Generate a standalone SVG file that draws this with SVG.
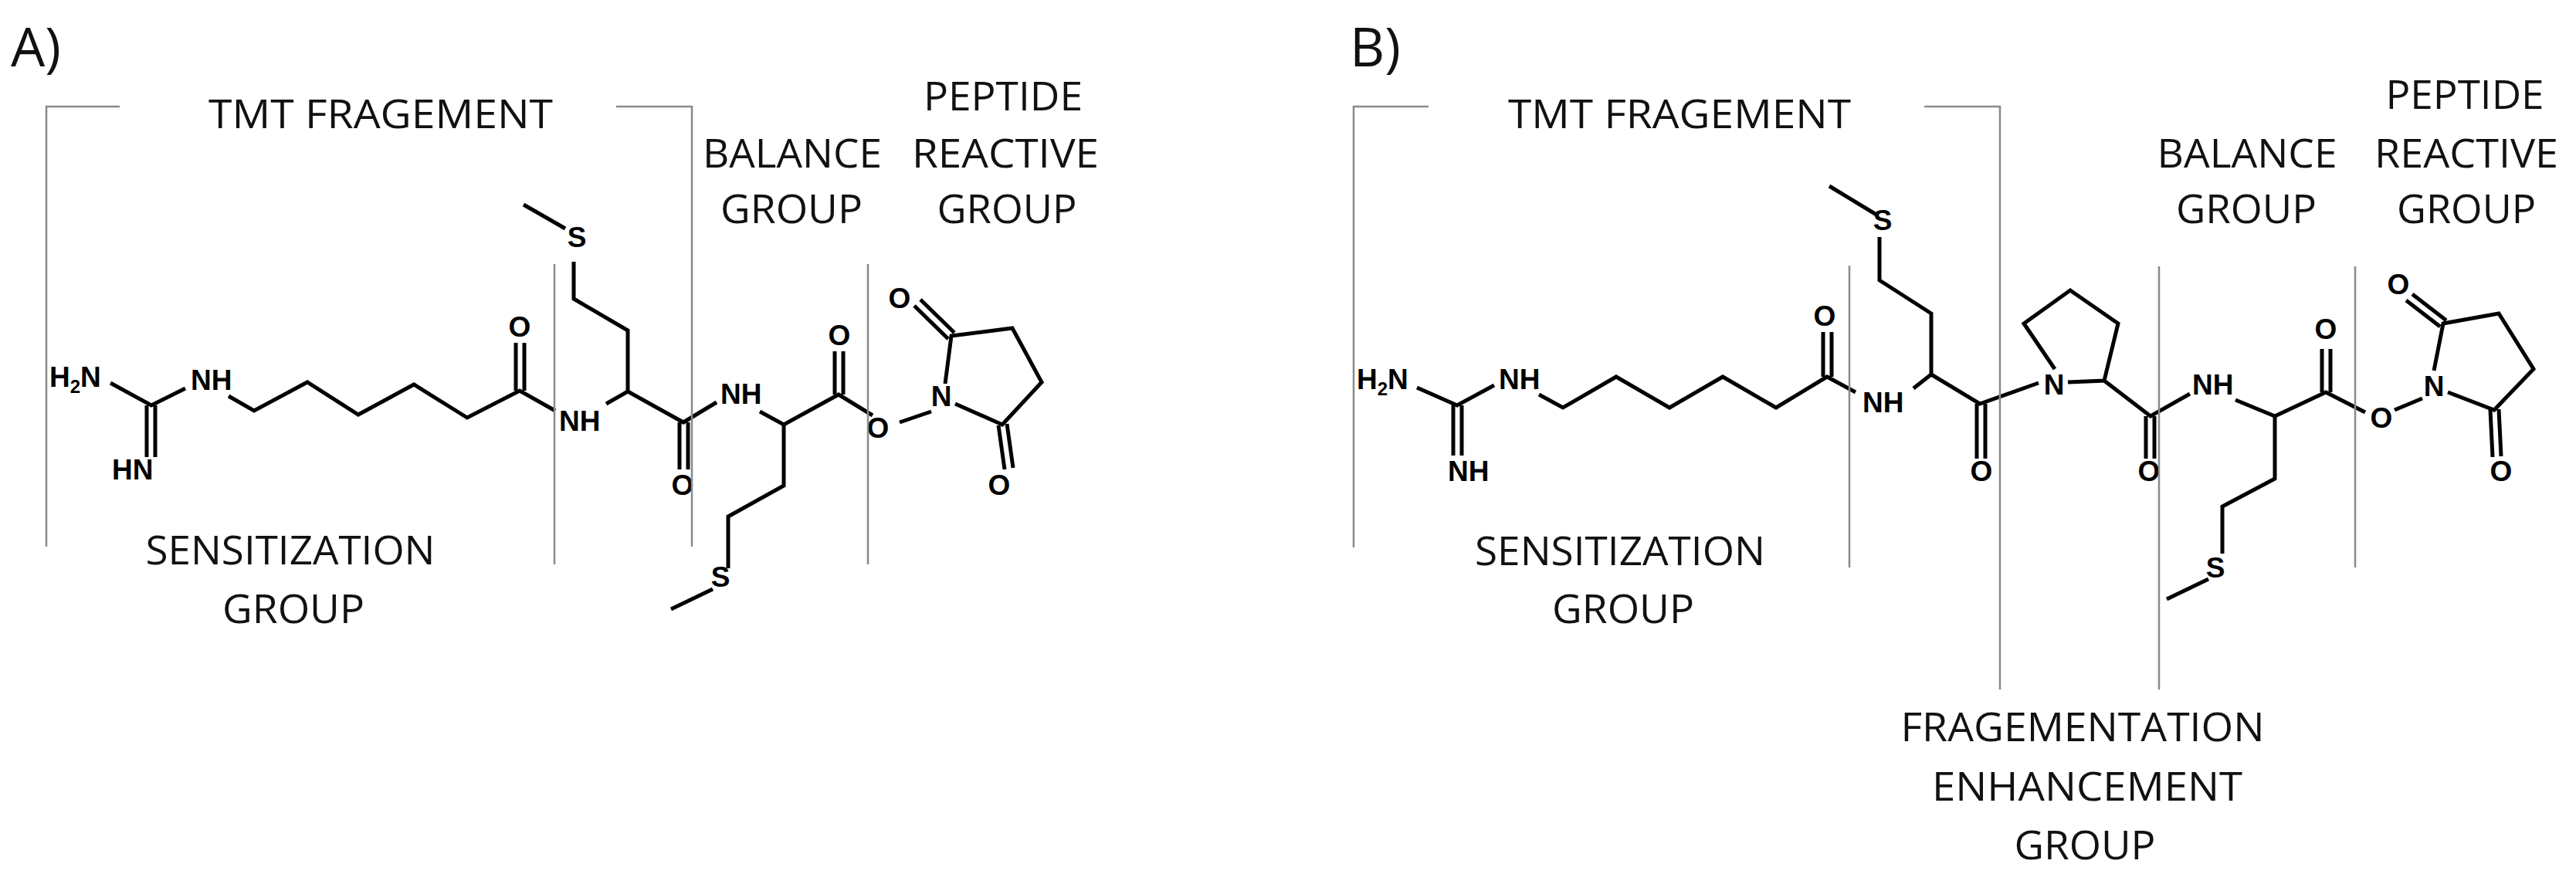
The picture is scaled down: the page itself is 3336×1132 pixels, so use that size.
<svg xmlns="http://www.w3.org/2000/svg" width="3336" height="1132" viewBox="0 0 3336 1132">
<style>
.lbl{font-family:"Open Sans","Liberation Sans",sans-serif;font-size:52px;fill:#111;text-anchor:middle}
.pan{font-family:"Open Sans","Liberation Sans",sans-serif;font-size:70px;fill:#111}
.at{font-family:"Liberation Sans",Arial,sans-serif;font-weight:bold;font-size:37px;fill:#000}
.m{text-anchor:middle}
.sub{font-size:24px}
.bd{fill:none;stroke:#000;stroke-width:5;stroke-linejoin:miter;stroke-linecap:butt}
.gl{fill:none;stroke:#8a8a8a;stroke-width:2.5}
</style>
<rect width="3336" height="1132" fill="#fff"/>
<g id="panelA">
<text class="pan" x="14" y="86">A)</text>
<g id="A-labels">
<text class="lbl" x="493" y="166" textLength="446" lengthAdjust="spacingAndGlyphs">TMT FRAGEMENT</text>
<text class="lbl" x="376" y="731" textLength="375" lengthAdjust="spacingAndGlyphs">SENSITIZATION</text>
<text class="lbl" x="380" y="807" textLength="184" lengthAdjust="spacingAndGlyphs">GROUP</text>
<text class="lbl" x="1026" y="217" textLength="232" lengthAdjust="spacingAndGlyphs">BALANCE</text>
<text class="lbl" x="1025" y="289" textLength="184" lengthAdjust="spacingAndGlyphs">GROUP</text>
<text class="lbl" x="1299" y="143" textLength="206" lengthAdjust="spacingAndGlyphs">PEPTIDE</text>
<text class="lbl" x="1302" y="217" textLength="242" lengthAdjust="spacingAndGlyphs">REACTIVE</text>
<text class="lbl" x="1304" y="289" textLength="181" lengthAdjust="spacingAndGlyphs">GROUP</text>
</g>
<g id="A-atoms">
<text class="at" x="64" y="501">H<tspan class="sub" dy="8">2</tspan><tspan dy="-8">N</tspan></text>
<text class="at" x="247" y="505">NH</text>
<text class="at" x="145" y="621">HN</text>
<text class="at m" x="673" y="436">O</text>
<text class="at" x="724" y="558">NH</text>
<text class="at m" x="747" y="320">S</text>
<text class="at m" x="884" y="641">O</text>
<text class="at" x="933" y="523">NH</text>
<text class="at m" x="1087" y="447">O</text>
<text class="at m" x="1137" y="567">O</text>
<text class="at m" x="1219" y="526">N</text>
<text class="at m" x="1165" y="399">O</text>
<text class="at m" x="1294" y="641">O</text>
<text class="at m" x="933" y="760">S</text>
</g>
</g>
<g id="panelB">
<text class="pan" x="1748" y="86">B)</text>
<g id="B-labels">
<text class="lbl" x="2175" y="166" textLength="444" lengthAdjust="spacingAndGlyphs">TMT FRAGEMENT</text>
<text class="lbl" x="2098" y="732" textLength="376" lengthAdjust="spacingAndGlyphs">SENSITIZATION</text>
<text class="lbl" x="2102" y="807" textLength="184" lengthAdjust="spacingAndGlyphs">GROUP</text>
<text class="lbl" x="2910" y="217" textLength="233" lengthAdjust="spacingAndGlyphs">BALANCE</text>
<text class="lbl" x="2909" y="289" textLength="182" lengthAdjust="spacingAndGlyphs">GROUP</text>
<text class="lbl" x="3192" y="141" textLength="205" lengthAdjust="spacingAndGlyphs">PEPTIDE</text>
<text class="lbl" x="3194" y="217" textLength="238" lengthAdjust="spacingAndGlyphs">REACTIVE</text>
<text class="lbl" x="3194" y="289" textLength="180" lengthAdjust="spacingAndGlyphs">GROUP</text>
<text class="lbl" x="2697" y="960" textLength="471" lengthAdjust="spacingAndGlyphs">FRAGEMENTATION</text>
<text class="lbl" x="2703" y="1037" textLength="402" lengthAdjust="spacingAndGlyphs">ENHANCEMENT</text>
<text class="lbl" x="2700" y="1113" textLength="183" lengthAdjust="spacingAndGlyphs">GROUP</text>
</g>
<g id="B-atoms">
<text class="at" x="1757" y="504">H<tspan class="sub" dy="8">2</tspan><tspan dy="-8">N</tspan></text>
<text class="at" x="1941" y="504">NH</text>
<text class="at" x="1875" y="623">NH</text>
<text class="at m" x="2363" y="422">O</text>
<text class="at" x="2412" y="534">NH</text>
<text class="at m" x="2438" y="298">S</text>
<text class="at m" x="2566" y="623">O</text>
<text class="at m" x="2660" y="511">N</text>
<text class="at m" x="2783" y="623">O</text>
<text class="at" x="2839" y="511">NH</text>
<text class="at m" x="3012" y="439">O</text>
<text class="at m" x="3084" y="554">O</text>
<text class="at m" x="3152" y="513">N</text>
<text class="at m" x="3106" y="381">O</text>
<text class="at m" x="3239" y="623">O</text>
<text class="at m" x="2869" y="748">S</text>
</g>
</g>
<g id="connectors">
<g id="A-bonds" class="bd">
<path d="M143,496 L196,525 L240,503"/>
<path d="M190,525 V592 M201,525 V592"/>
<path d="M296,513 L329,532 L398,495 L464,537 L536,498 L605,541 L673,506 L719,532"/>
<path d="M668,506 V444 M679,506 V444"/>
<path d="M678,265 L732,296"/>
<path d="M743,339 V387 L813,428 V507 L785,523"/>
<path d="M813,507 L885,547 L928,521"/>
<path d="M880,547 V608 M891,547 V608"/>
<path d="M984,533 L1015,550 L1086,511 L1130,538"/>
<path d="M1015,550 V629 L943,669 V736"/>
<path d="M923,763 L869,789"/>
<path d="M1081,511 V455 M1092,511 V455"/>
<path d="M1165,547 L1206,533"/>
<path d="M1224,497 L1232,435 L1311,425 L1349,495 L1298,550 L1237,523"/>
<path d="M1228,439 L1184,396 M1236,431 L1192,388"/>
<path d="M1293,551 L1301,608 M1304,549 L1312,606"/>
</g>
<g id="B-bonds" class="bd">
<path d="M1835,502 L1887,525 L1935,499"/>
<path d="M1882,525 V590 M1893,525 V590"/>
<path d="M1993,511 L2024,528 L2093,488 L2162,528 L2231,488 L2300,528 L2366,488 L2403,508"/>
<path d="M2361,488 V430 M2372,488 V430"/>
<path d="M2369,241 L2430,278"/>
<path d="M2434,307 V363 L2501,406 V485 L2478,503"/>
<path d="M2501,485 L2564,523 L2640,496"/>
<path d="M2560,523 V594 M2571,523 V594"/>
<path d="M2661,478 L2621,419 L2681,376 L2743,419 L2725,493 L2678,495"/>
<path d="M2725,493 L2785,539 L2836,510"/>
<path d="M2779,539 V594 M2790,539 V594"/>
<path d="M2895,518 L2946,539 L3012,508 L3063,534"/>
<path d="M3007,508 V452 M3018,508 V452"/>
<path d="M2946,539 V620 L2878,656 V717"/>
<path d="M2860,750 L2806,776"/>
<path d="M3101,531 L3137,516"/>
<path d="M3152,480 L3164,419 L3236,406 L3281,478 L3230,531 L3170,508"/>
<path d="M3160,423 L3116,389 M3168,415 L3124,381"/>
<path d="M3225,531 L3228,592 M3236,530 L3239,591"/>
</g>
<g id="A-brackets" class="gl">
<path d="M155,138 H60 V708"/>
<path d="M798,138 H896 V708"/>
<path d="M718,342 V731"/>
<path d="M1124,342 V731"/>
</g>
<g id="B-brackets" class="gl">
<path d="M1850,138 H1753 V709"/>
<path d="M2492,138 H2590 V893"/>
<path d="M2395,344 V735"/>
<path d="M2796,345 V893"/>
<path d="M3050,345 V735"/>
</g>
</g>
</svg>
